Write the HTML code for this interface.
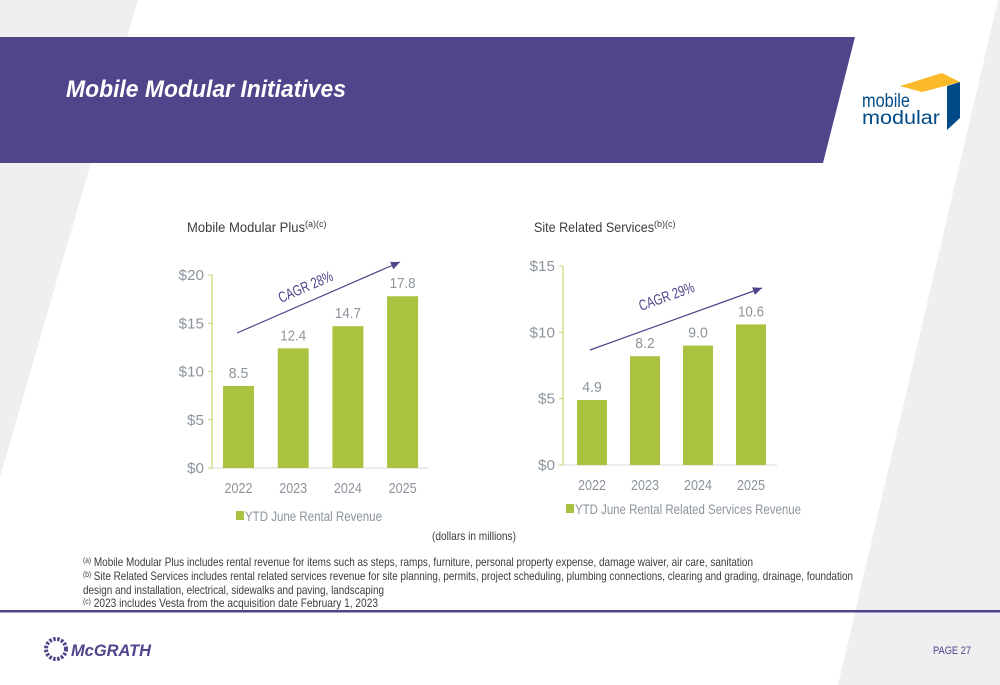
<!DOCTYPE html>
<html><head><meta charset="utf-8"><style>
html,body{margin:0;padding:0;background:#fff;overflow:hidden;width:1000px;height:685px;}
svg{display:block;font-family:"Liberation Sans Narrow","Liberation Sans",sans-serif;}
</style></head><body>
<svg id="s" width="1000" height="685" viewBox="0 0 1000 685">
<polygon points="0,0 138,0 0,477" fill="#eeeff1"/>
<polygon points="1000,0 1000,685 838,685 998,0" fill="#eeeff1"/>
<polygon points="0,37 855,37 823,163 0,163" fill="#50448a"/>
<text x="66" y="97" fill="#fff" font-size="24" font-weight="bold" font-style="italic" textLength="280" lengthAdjust="spacingAndGlyphs">Mobile Modular Initiatives</text>
<g>
<polygon points="900,86 942,73 960,82 922,92" fill="#fbb829"/>
<polygon points="947,86 960,82 960,118 947,130" fill="#004b87"/>
<text x="862" y="107" fill="#004b87" font-size="19" textLength="48" lengthAdjust="spacingAndGlyphs">mobile</text>
<text x="862" y="124" fill="#004b87" font-size="19" textLength="78" lengthAdjust="spacingAndGlyphs">modular</text>
</g>
<text x="187" y="232" fill="#3c3c3c" font-size="14"><tspan textLength="118" lengthAdjust="spacingAndGlyphs">Mobile Modular Plus</tspan><tspan font-size="9" dy="-5">(a)(c)</tspan></text>
<text x="534" y="232" fill="#3c3c3c" font-size="14"><tspan textLength="120" lengthAdjust="spacingAndGlyphs">Site Related Services</tspan><tspan font-size="9" dy="-5">(b)(c)</tspan></text>
<g id="c1"></g><g id="c2"></g>
<text x="474" y="540" text-anchor="middle" fill="#3c3c3c" font-size="12" textLength="84" lengthAdjust="spacingAndGlyphs">(dollars in millions)</text>
<g fill="#3c3c3c" font-size="12">
<text x="83" y="566" textLength="670" lengthAdjust="spacingAndGlyphs"><tspan font-size="8" dy="-3">(a)</tspan><tspan dy="3"> Mobile Modular Plus includes rental revenue for items such as steps, ramps, furniture, personal property expense, damage waiver, air care, sanitation</tspan></text>
<text x="83" y="580" textLength="770" lengthAdjust="spacingAndGlyphs"><tspan font-size="8" dy="-3">(b)</tspan><tspan dy="3"> Site Related Services includes rental related services revenue for site planning, permits, project scheduling, plumbing connections, clearing and grading, drainage, foundation</tspan></text>
<text x="83" y="594" textLength="301" lengthAdjust="spacingAndGlyphs">design and installation, electrical, sidewalks and paving, landscaping</text>
<text x="83" y="607" textLength="295" lengthAdjust="spacingAndGlyphs"><tspan font-size="8" dy="-3">(c)</tspan><tspan dy="3"> 2023 includes Vesta from the acquisition date February 1, 2023</tspan></text>
</g>
<rect x="0" y="610" width="1000" height="2.5" fill="#50448a"/>
<g>
<circle cx="56" cy="649" r="10" fill="none" stroke="#50448a" stroke-width="4" stroke-dasharray="2.5 1.5"/>
<text x="71" y="656" fill="#50448a" font-size="17" font-weight="bold" font-style="italic" font-family="Liberation Sans,sans-serif" textLength="80" lengthAdjust="spacingAndGlyphs">McGRATH</text>
</g>
<text x="971" y="654" text-anchor="end" fill="#50448a" font-size="11" textLength="38" lengthAdjust="spacingAndGlyphs">PAGE  27</text>
</svg>
<script>
const years=["2022","2023","2024","2025"];
const mmpValues=[8.5,12.4,14.7,17.8];
const mmpTicks=[0,5,10,15,20];
const srsValues=[4.9,8.2,9.0,10.6];
const srsTicks=[0,5,10,15];
const NS="http://www.w3.org/2000/svg";
function mk(p,t,a,txt){const e=document.createElementNS(NS,t);for(const k in a)e.setAttribute(k,a[k]);if(txt!=null)e.textContent=txt;p.appendChild(e);return e;}
function chart(g,vals,ticks,o){
 const y=v=>o.y0-(v/ticks[ticks.length-1])*(o.y0-o.yTop);
 const x=i=>o.x0+i*o.step;
 const ax=mk(g,'line',{x1:o.ax,x2:o.ax,y1:o.yTop,y2:o.y0,stroke:'#c5d86d','stroke-width':1.2});
 
 const bx=mk(g,'line',{x1:o.ax,x2:o.xEnd,y1:o.y0,y2:o.y0,stroke:'#d9d9d9','stroke-width':1});
 
 ticks.forEach(t=>{
  const tk=mk(g,'line',{x1:o.ax-4,x2:o.ax,y1:y(t),y2:y(t),stroke:'#c5d86d'});
  
  const s='$'+t;
  const l=mk(g,'text',{x:o.ax-8,y:y(t)+5,'text-anchor':'end',fill:'#8c949c','font-size':15,textLength:s.length*8.5,lengthAdjust:'spacingAndGlyphs'},s);
  
 });
 vals.forEach((v,i)=>{
  const b=mk(g,'rect',{x:x(i),y:y(v),width:o.bw,height:o.y0-y(v),fill:'#a9c23f'});
  
  const s=v.toFixed(1);
  const l=mk(g,'text',{x:x(i)+o.bw/2,y:y(v)-8,'text-anchor':'middle',fill:'#8c949c','font-size':15,textLength:s.length*6.5,lengthAdjust:'spacingAndGlyphs'},s);
  
  const c=mk(g,'text',{x:x(i)+o.bw/2,y:o.y0+25,'text-anchor':'middle',fill:'#8c949c','font-size':15,textLength:28,lengthAdjust:'spacingAndGlyphs'},years[i]);
  
 });
 const ar=mk(g,'line',{x1:o.a[0],y1:o.a[1],x2:o.a[2],y2:o.a[3],stroke:'#50448a','stroke-width':1.2});
 
 const ang=Math.atan2(o.a[3]-o.a[1],o.a[2]-o.a[0]);
 const hx=o.a[2],hy=o.a[3],L=9,W=4;
 const p1=[hx-L*Math.cos(ang)+W*Math.sin(ang),hy-L*Math.sin(ang)-W*Math.cos(ang)];
 const p2=[hx-L*Math.cos(ang)-W*Math.sin(ang),hy-L*Math.sin(ang)+W*Math.cos(ang)];
 const ah=mk(g,'polygon',{points:`${hx},${hy} ${p1} ${p2}`,fill:'#50448a'});
 
 const ct=mk(g,'text',{x:o.c[0],y:o.c[1],fill:'#50448a','font-size':15,textLength:58,lengthAdjust:'spacingAndGlyphs',transform:`rotate(${ang*180/Math.PI} ${o.c[0]} ${o.c[1]})`},o.ctext);
 
 const sw=mk(g,'rect',{x:o.leg[0],y:o.leg[1]-10,width:8,height:9,fill:'#a9c23f'});
 
 const lt=mk(g,'text',{x:o.leg[0]+9,y:o.leg[1],fill:'#8c949c','font-size':14,textLength:o.legW,lengthAdjust:'spacingAndGlyphs'},o.legText);
 
}
chart(document.getElementById('c1'),mmpValues,mmpTicks,{x0:223,step:54.7,bw:31,y0:468,yTop:275,ax:212,xEnd:428,a:[237,333,400,262],c:[281,303],ctext:'CAGR 28%',leg:[236,521],legW:137,legText:'YTD June Rental Revenue'});
chart(document.getElementById('c2'),srsValues,srsTicks,{x0:577,step:53,bw:30,y0:465,yTop:266,ax:563,xEnd:777,a:[590,350,762,288],c:[641,311],ctext:'CAGR 29%',leg:[566,514],legW:226,legText:'YTD June Rental Related Services Revenue'});
</script>
</body></html>
